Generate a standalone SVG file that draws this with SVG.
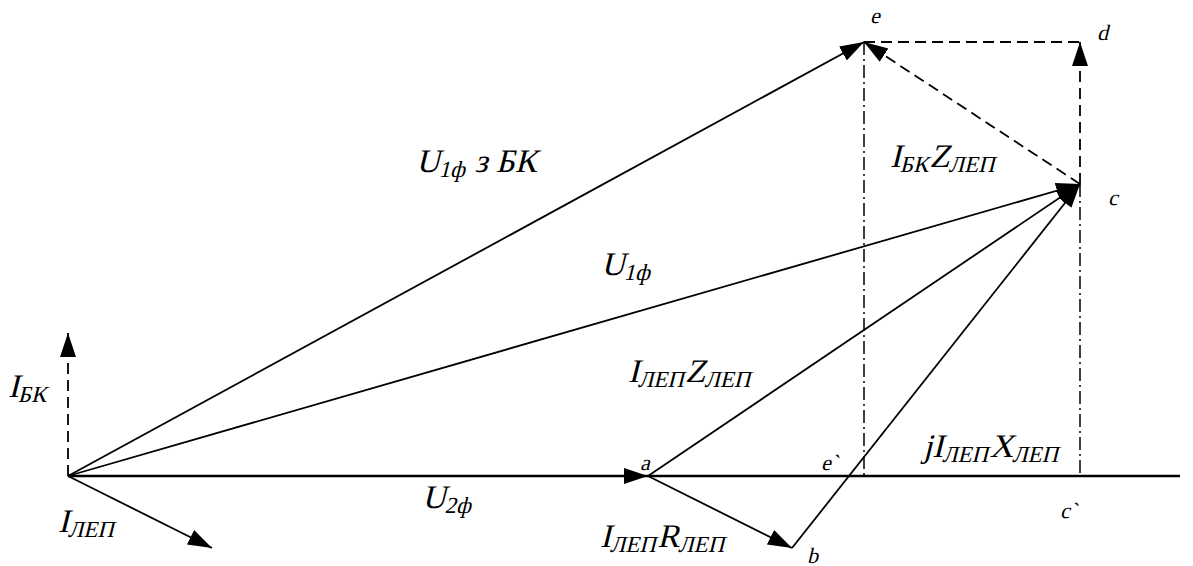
<svg xmlns="http://www.w3.org/2000/svg" width="1193" height="566" viewBox="0 0 1193 566">
<style>
.l{stroke:#000;stroke-width:1.8;fill:none}
.ax{stroke:#000;stroke-width:2.4;fill:none}
.d{stroke:#000;stroke-width:1.8;fill:none;stroke-dasharray:11 6}
.dd{stroke:#000;stroke-width:1.5;fill:none;stroke-dasharray:13 4 2 4}
text{font-family:"Liberation Serif","Times New Roman",serif;fill:#000}
.big{font-size:33px}
.u{font-size:33px}
.sm{font-size:22px}
.sub{font-size:23px}
</style>
<defs>
<marker id="ah" markerUnits="userSpaceOnUse" markerWidth="26" markerHeight="18" refX="24" refY="8" orient="auto">
<path d="M0,0 L24,8 L0,16 z" fill="#000"/>
</marker>
</defs>
<rect width="1193" height="566" fill="#fff"/>
<g id="connectors">
<line class="ax" x1="68" y1="476" x2="1180" y2="476"/>
<line class="l" x1="68" y1="476" x2="648" y2="476" marker-end="url(#ah)"/>
<line class="l" x1="68" y1="476" x2="864" y2="42" marker-end="url(#ah)"/>
<line class="l" x1="68" y1="476" x2="1080" y2="184" marker-end="url(#ah)"/>
<line class="l" x1="648" y1="476" x2="1080" y2="184" marker-end="url(#ah)"/>
<line class="l" x1="648" y1="476" x2="792" y2="548" marker-end="url(#ah)"/>
<line class="l" x1="792" y1="548" x2="1080" y2="184" marker-end="url(#ah)"/>
<line class="l" x1="68" y1="476" x2="212" y2="548" marker-end="url(#ah)"/>
<line class="d" x1="68" y1="476" x2="68" y2="333" marker-end="url(#ah)"/>
<line class="d" x1="1080" y1="184" x2="864" y2="42" marker-end="url(#ah)"/>
<line class="d" x1="1080" y1="184" x2="1080" y2="42" marker-end="url(#ah)"/>
<line class="d" x1="864" y1="42" x2="1080" y2="42"/>
<line class="dd" x1="864" y1="42" x2="864" y2="476"/>
<line class="dd" x1="1080" y1="184" x2="1080" y2="476"/>
</g>
<g id="labels">
<text class="u" transform="translate(416,172) skewX(-14)">U<tspan class="sub" dy="5">1ф</tspan><tspan dy="-5"> з БК</tspan></text>
<text class="u" transform="translate(601,275) skewX(-14)">U<tspan class="sub" dy="5">1ф</tspan></text>
<text class="big" transform="translate(890,167) skewX(-14)">I<tspan class="sub" dy="5">БК</tspan><tspan dy="-5">Z</tspan><tspan class="sub" dy="5">ЛЕП</tspan></text>
<text class="big" transform="translate(628,382) skewX(-14)">I<tspan class="sub" dy="5">ЛЕП</tspan><tspan dy="-5">Z</tspan><tspan class="sub" dy="5">ЛЕП</tspan></text>
<text class="big" transform="translate(923,457) skewX(-14)">jI<tspan class="sub" dy="5">ЛЕП</tspan><tspan dy="-5">X</tspan><tspan class="sub" dy="5">ЛЕП</tspan></text>
<text class="big" transform="translate(600,547) skewX(-14)">I<tspan class="sub" dy="5">ЛЕП</tspan><tspan dy="-5">R</tspan><tspan class="sub" dy="5">ЛЕП</tspan></text>
<text class="big" transform="translate(8,397) skewX(-14)">I<tspan class="sub" dy="5">БК</tspan></text>
<text class="big" transform="translate(58,532) skewX(-14)">I<tspan class="sub" dy="5">ЛЕП</tspan></text>
<text class="big" transform="translate(422,508) skewX(-14)">U<tspan class="sub" dy="5">2ф</tspan></text>
<text class="sm" transform="translate(870,23) skewX(-14)">e</text>
<text class="sm" transform="translate(1097,40) skewX(-14)">d</text>
<text class="sm" transform="translate(1108,205) skewX(-14)">c</text>
<text class="sm" transform="translate(640,470) skewX(-14)">a</text>
<text class="sm" transform="translate(821,470) skewX(-14)">e`</text>
<text class="sm" transform="translate(807,563) skewX(-14)">b</text>
<text class="sm" transform="translate(1060,518) skewX(-14)">c`</text>
</g>
</svg>
